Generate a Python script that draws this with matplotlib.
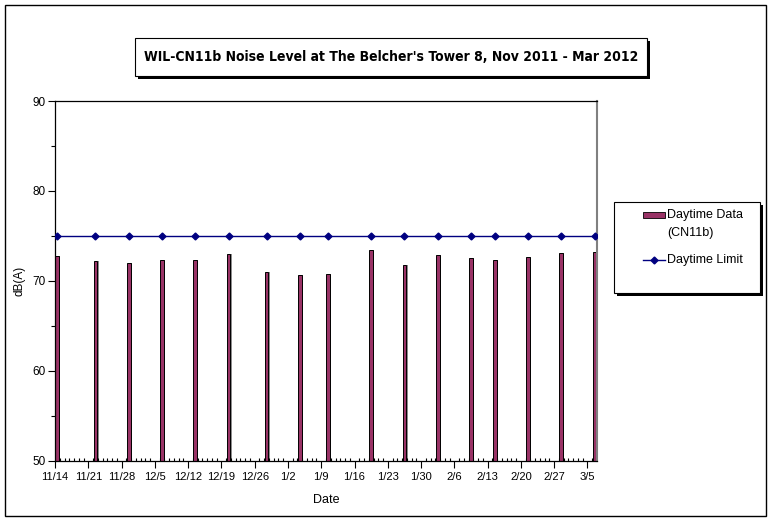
import matplotlib
matplotlib.use('Agg')
import matplotlib.pyplot as plt
import matplotlib.dates as mdates
from matplotlib.patches import Rectangle
from matplotlib.lines import Line2D
from matplotlib import font_manager
import pandas as pd

# data
dates = ['2011-11-14', '2011-11-22', '2011-11-29', '2011-12-06', '2011-12-13',
         '2011-12-20', '2011-12-28', '2012-01-04', '2012-01-10', '2012-01-19',
         '2012-01-26', '2012-02-02', '2012-02-09', '2012-02-14', '2012-02-21',
         '2012-02-28', '2012-03-06']
daytime_data = [72.8, 72.2, 72.0, 72.3, 72.3, 73.0, 71.0, 70.6, 70.8, 73.4,
                71.8, 72.9, 72.5, 72.3, 72.6, 73.1, 73.2]
daytime_limit = [75] * len(dates)

title = "WIL-CN11b Noise Level at The Belcher's Tower 8, Nov 2011 - Mar 2012"
W, H = 771, 521

plt.rcParams['font.family'] = ['Liberation Sans', 'DejaVu Sans']


def fx(px):
    return px / W


def fy(py):
    return 1 - py / H


fig = plt.figure(figsize=(W / 100, H / 100), dpi=100)
ax = fig.add_axes([fx(55), fy(460.7), fx(597) - fx(55), fy(101) - fy(460.7)])

x = mdates.date2num(pd.to_datetime(dates)) + 0.5
# gray shadow on the right side of each bar, like the Excel look
ax.bar(x + 0.25, daytime_data, width=0.8, color='#8c8c8c', linewidth=0, zorder=1.5)
ax.bar(x, daytime_data, width=0.8, color='#993366', edgecolor='black', linewidth=0.7, zorder=2)
ax.plot(x, daytime_limit, color='#000080', linewidth=1, marker='D', markersize=3.5, zorder=3)

start = mdates.date2num(pd.Timestamp('2011-11-14'))
end = mdates.date2num(pd.Timestamp('2012-03-07'))
ax.set_xlim(start, end)
ax.set_ylim(50, 90)

major = pd.date_range('2011-11-14', '2012-03-05', freq='7D')
ax.set_xticks(mdates.date2num(major))
ax.set_xticklabels([f"{d.month}/{d.day}" for d in major], fontsize=8)
ax.set_xticks(mdates.date2num(pd.date_range('2011-11-14', '2012-03-06', freq='D')), minor=True)
ax.set_yticks([50, 60, 70, 80, 90])
ax.set_yticks([55, 65, 75, 85], minor=True)
ax.tick_params(axis='y', labelsize=8.5, length=5, width=0.8, pad=2)
ax.tick_params(axis='y', which='minor', length=3, width=0.8)
ax.tick_params(axis='x', which='major', length=5, width=0.8, pad=3)
ax.tick_params(axis='x', which='minor', direction='in', length=2, width=0.8)

ax.set_xlabel('Date', fontsize=9, labelpad=9)
ax.set_ylabel('dB(A)', fontsize=8.5, labelpad=5)

for s in ['left', 'bottom', 'top']:
    ax.spines[s].set_color('black')
    ax.spines[s].set_linewidth(0.9)
ax.spines['right'].set_color('#808080')
ax.spines['right'].set_linewidth(1.5)

# condensed bold face for the title if one is around
title_props = dict(fontsize=10, fontweight='bold', family='DejaVu Sans', fontstretch='condensed')
try:
    cond = font_manager.findfont(
        font_manager.FontProperties(family='DejaVu Sans', weight='bold', stretch='condensed'),
        fallback_to_default=False)
except Exception:
    cond = ''
if 'Condensed' not in cond:
    title_props = dict(fontsize=10.5, fontweight='bold', family='Liberation Sans')

# title box with shadow
tx0, tx1, ty0, ty1 = 135, 647, 38, 76
fig.add_artist(Rectangle((fx(tx0 + 3), fy(ty1 + 3)), fx(tx1) - fx(tx0), fy(ty0) - fy(ty1),
                         transform=fig.transFigure, facecolor='black', edgecolor='none'))
fig.add_artist(Rectangle((fx(tx0), fy(ty1)), fx(tx1) - fx(tx0), fy(ty0) - fy(ty1),
                         transform=fig.transFigure, facecolor='white', edgecolor='black', linewidth=0.8))
fig.text(fx((tx0 + tx1) / 2), fy((ty0 + ty1) / 2), title, ha='center', va='center', **title_props)

# legend box with shadow
lx0, lx1, ly0, ly1 = 614, 760, 202, 293
fig.add_artist(Rectangle((fx(lx0 + 3), fy(ly1 + 3)), fx(lx1) - fx(lx0), fy(ly0) - fy(ly1),
                         transform=fig.transFigure, facecolor='black', edgecolor='none'))
fig.add_artist(Rectangle((fx(lx0), fy(ly1)), fx(lx1) - fx(lx0), fy(ly0) - fy(ly1),
                         transform=fig.transFigure, facecolor='white', edgecolor='black', linewidth=0.8))
fig.add_artist(Rectangle((fx(643), fy(218)), fx(665) - fx(643), fy(212) - fy(218),
                         transform=fig.transFigure, facecolor='#993366', edgecolor='black', linewidth=0.6))
fig.text(fx(667), fy(215), 'Daytime Data', va='center', fontsize=9)
fig.text(fx(667), fy(233), '(CN11b)', va='center', fontsize=9)
fig.add_artist(Line2D([fx(643), fx(665)], [fy(260), fy(260)], transform=fig.transFigure,
                      color='#000080', linewidth=1))
fig.add_artist(Line2D([fx(654)], [fy(260)], transform=fig.transFigure, color='#000080',
                      marker='D', markersize=3.5))
fig.text(fx(667), fy(260), 'Daytime Limit', va='center', fontsize=9)

# outer chart border
fig.add_artist(Rectangle((fx(5), fy(516)), fx(766) - fx(5), fy(5) - fy(516),
                         transform=fig.transFigure, facecolor='none', edgecolor='black', linewidth=1))

fig.savefig('out.png', dpi=100)
